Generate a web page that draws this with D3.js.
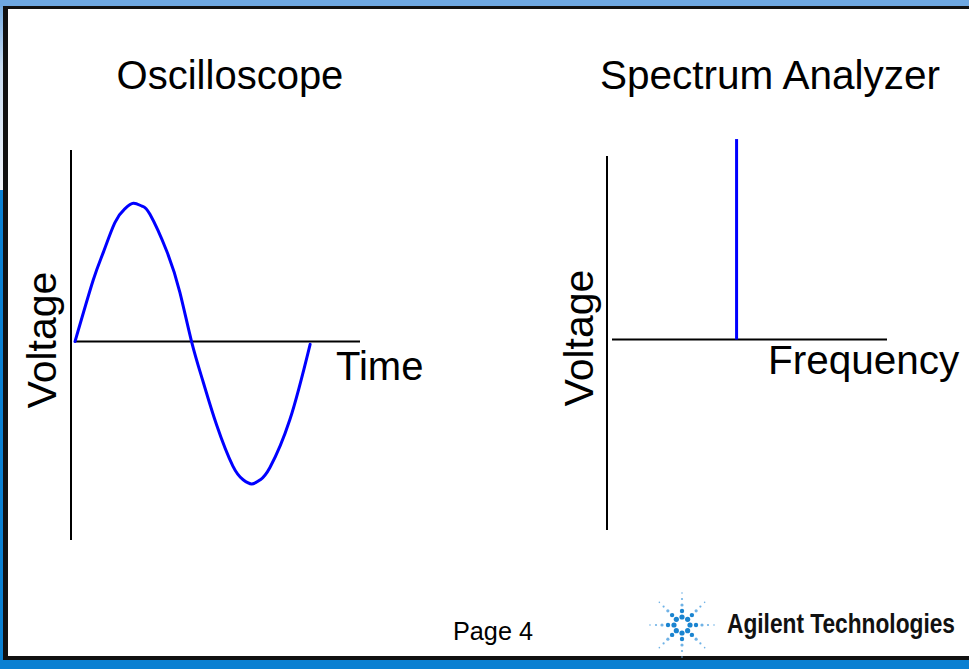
<!DOCTYPE html>
<html>
<head>
<meta charset="utf-8">
<script src="https://cdn.jsdelivr.net/npm/d3@7"></script>
<style>
  body { margin: 0; background: #fff; }
  svg { display: block; }
  text { font-family: "Liberation Sans", Arial, sans-serif; }
</style>
</head>
<body>
<div id="chart"></div>
<script>
// values
var timeValues = [0, 0.64, 0.99, 1.40, 1.75, 2.05, 2.35, 2.63, 3.22, 3.68, 4.09, 4.49, 4.97, 5.54, 5.90, 6.20, 6.50, 6.84, 7.54, 8.25]
var voltValues = [0, 0.45, 0.65, 0.87, 0.97, 1.01, 0.99, 0.93, 0.66, 0.36, 0.0, -0.29, -0.61, -0.91, -1.01, -1.04, -1.01, -0.92, -0.57, -0.02]

var spikeFreq = [4.53]
var spikeVolt = [1.42]

var titles = ['Oscilloscope', 'Spectrum Analyzer']
var xLabels = ['Time', 'Frequency']
var yLabel = 'Voltage'
var pageLabel = 'Page 4'
var brand = 'Agilent Technologies'

var width = 969, height = 669

var svg = d3.select("#chart")
    .append("svg")
    .attr("width", width)
    .attr("height", height)

// slide background
var defs = svg.append("defs")
var grad = defs.append("linearGradient")
    .attr("id", "leftfade")
    .attr("x1", 0).attr("y1", 0).attr("x2", 0).attr("y2", 1)
grad.append("stop").attr("offset", "0%").attr("stop-color", "#6ea8e2")
grad.append("stop").attr("offset", "35%").attr("stop-color", "#c9dcf0")
grad.append("stop").attr("offset", "100%").attr("stop-color", "#f4f7fc")

svg.append("rect").attr("x", 0).attr("y", 0).attr("width", width).attr("height", height).attr("fill", "#0a80d2")
svg.append("rect").attr("x", 0).attr("y", 0).attr("width", width).attr("height", 190).attr("fill", "url(#leftfade)")
svg.append("rect").attr("x", 0).attr("y", 0).attr("width", width).attr("height", 7).attr("fill", "#6ea8e2")

// white panel with dark frame
svg.append("rect")
    .attr("x", 3).attr("y", 6)
    .attr("width", width + 10).attr("height", 654)
    .attr("fill", "#111")
svg.append("rect")
    .attr("x", 8).attr("y", 9)
    .attr("width", width + 10).attr("height", 647)
    .attr("fill", "#fff")

// ---------- oscilloscope ----------
var xTime = d3.scaleLinear().domain([0, 10]).range([75, 360])
var yLeft = d3.scaleLinear().domain([-1.45, 1.4]).range([540, 150])

var left = svg.append("g")

left.append("line")
    .attr("x1", 71).attr("x2", 71)
    .attr("y1", yLeft(1.4)).attr("y2", yLeft(-1.45))
    .attr("stroke", "#000").attr("stroke-width", 2)

left.append("line")
    .attr("x1", xTime(0)).attr("x2", xTime(10))
    .attr("y1", yLeft(0)).attr("y2", yLeft(0))
    .attr("stroke", "#000").attr("stroke-width", 2)

var wave = timeValues.map(function(t, i) { return [t, voltValues[i]] })

var line = d3.line()
    .x(function(d) { return xTime(d[0]) })
    .y(function(d) { return yLeft(d[1]) })
    .curve(d3.curveNatural)

left.append("path")
    .datum(wave)
    .attr("d", line)
    .attr("fill", "none")
    .attr("stroke", "#0000ff")
    .attr("stroke-width", 3)
    .attr("stroke-linecap", "round")

// ---------- spectrum analyzer ----------
var xFreq = d3.scaleLinear().domain([0, 10]).range([612, 887])
var yRight = d3.scaleLinear().domain([-1.35, 1.3]).range([530, 156])

var right = svg.append("g")

right.append("line")
    .attr("x1", 607).attr("x2", 607)
    .attr("y1", yRight(1.3)).attr("y2", yRight(-1.35))
    .attr("stroke", "#000").attr("stroke-width", 2)

right.append("line")
    .attr("x1", xFreq(0)).attr("x2", xFreq(10))
    .attr("y1", yRight(0)).attr("y2", yRight(0))
    .attr("stroke", "#000").attr("stroke-width", 2)

right.selectAll(".spike")
    .data(spikeFreq)
    .enter().append("line")
    .attr("class", "spike")
    .attr("x1", function(d) { return xFreq(d) })
    .attr("x2", function(d) { return xFreq(d) })
    .attr("y1", yRight(0))
    .attr("y2", function(d, i) { return yRight(spikeVolt[i]) })
    .attr("stroke", "#0000ff")
    .attr("stroke-width", 3)

// ---------- labels ----------
svg.append("text").text(titles[0])
    .attr("x", 230).attr("y", 89)
    .attr("text-anchor", "middle")
    .attr("font-size", "40px")

svg.append("text").text(titles[1])
    .attr("x", 770).attr("y", 89)
    .attr("text-anchor", "middle")
    .attr("font-size", "40.5px")

svg.append("text").text(xLabels[0])
    .attr("x", 336).attr("y", 380)
    .attr("font-size", "40px")

svg.append("text").text(xLabels[1])
    .attr("x", 768).attr("y", 374)
    .attr("font-size", "40.5px")

svg.append("text").text(yLabel)
    .attr("transform", "translate(56,340) rotate(-90)")
    .attr("text-anchor", "middle")
    .attr("font-size", "41px")

svg.append("text").text(yLabel)
    .attr("transform", "translate(593,338) rotate(-90)")
    .attr("text-anchor", "middle")
    .attr("font-size", "41px")

svg.append("text").text(pageLabel)
    .attr("x", 453).attr("y", 640)
    .attr("font-size", "25px")
    .attr("textLength", 80)
    .attr("lengthAdjust", "spacingAndGlyphs")

// ---------- logo ----------
var logo = svg.append("g").attr("transform", "translate(682,625)")
d3.range(8).forEach(function(k) {
  var a = k * Math.PI / 4
  var radii = [8, 14, 20, 26, 32]
  var sizes = [2.6, 2.2, 1.6, 1.1, 0.8]
  radii.forEach(function(r, j) {
    logo.append("circle")
        .attr("cx", Math.cos(a) * r)
        .attr("cy", Math.sin(a) * r)
        .attr("r", sizes[j])
        .attr("fill", j < 2 ? "#1a84d0" : "#6fb2e6")
  })
})

// condensed bold wordmark: smaller font stretched vertically
svg.append("text").text(brand)
    .attr("transform", "translate(727,633) scale(1,1.25)")
    .attr("font-weight", "bold")
    .attr("font-size", "21.5px")
    .attr("textLength", 228)
    .attr("lengthAdjust", "spacingAndGlyphs")
    .attr("fill", "#111")
</script>
</body>
</html>
